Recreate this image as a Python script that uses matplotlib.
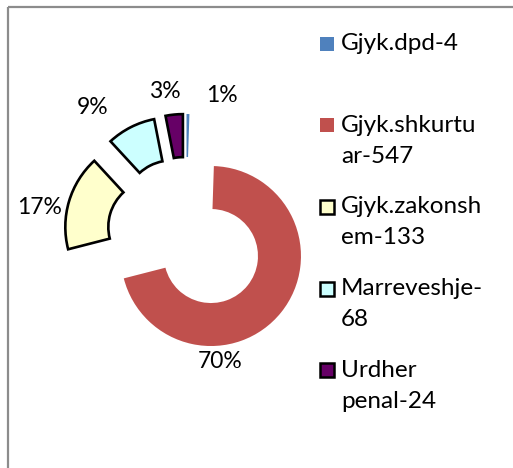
import matplotlib.pyplot as plt
from matplotlib.patches import Rectangle

# case counts by type
labels = ['Gjyk.dpd-4', 'Gjyk.shkurtu\nar-547', 'Gjyk.zakonsh\nem-133',
          'Marreveshje-\n68', 'Urdher\npenal-24']
counts = [4, 547, 133, 68, 24]
colors = ['#4F81BD', '#C0504D', '#FFFFCC', '#CCFFFF', '#660066']
outlined = [False, False, True, True, True]

W, H = 513, 468
fig = plt.figure(figsize=(W / 100, H / 100), dpi=100)
ax = fig.add_axes([0, 0, 1, 1])
plt.rcParams['font.family'] = ['Lato', 'DejaVu Sans']

# donut, work in pixel units (y up)
cx, cy, R = 186, H - 236, 90
wedges, _, pcts = ax.pie(counts, colors=colors, startangle=90, counterclock=False,
                         center=(cx, cy), radius=R, explode=[32] * len(counts),
                         autopct='%.0f%%', pctdistance=1.3,
                         wedgeprops=dict(width=43, linewidth=0),
                         textprops=dict(fontsize=16.5, color='black'))
for w, o in zip(wedges, outlined):
    if o:
        w.set_edgecolor('black')
        w.set_linewidth(1.9)

# percent labels placed by hand (pixel coords, from top)
pct_pos = [(222, 96), (220, 362), (40, 207), (93, 107), (165, 91)]
for t, (px, py) in zip(pcts, pct_pos):
    t.set_position((px, H - py))
    t.set_ha('center')
    t.set_va('center')

ax.set_xlim(0, W)
ax.set_ylim(0, H)
ax.set_aspect('equal')
ax.axis('off')

# legend drawn by hand, one text per wrapped line
for i, (lab, c, o) in enumerate(zip(labels, colors, outlined)):
    base = 50 + 81.7 * i
    ax.add_patch(Rectangle((320, H - base - 0.5), 14, 14, facecolor=c,
                           edgecolor='black' if o else 'none', linewidth=1.8))
    for j, line in enumerate(lab.split('\n')):
        ax.text(341, H - base - 31 * j, line, fontsize=17.5,
                ha='left', va='baseline')

# chart frame (top and left edges)
ax.plot([7.5, 7.5], [0, H - 6.5], color='#8c8c8c', lw=1.6, solid_capstyle='butt')
ax.plot([7.5, W], [H - 6.5, H - 6.5], color='#8c8c8c', lw=1.6, solid_capstyle='butt')

plt.savefig('out.png', dpi=100)
